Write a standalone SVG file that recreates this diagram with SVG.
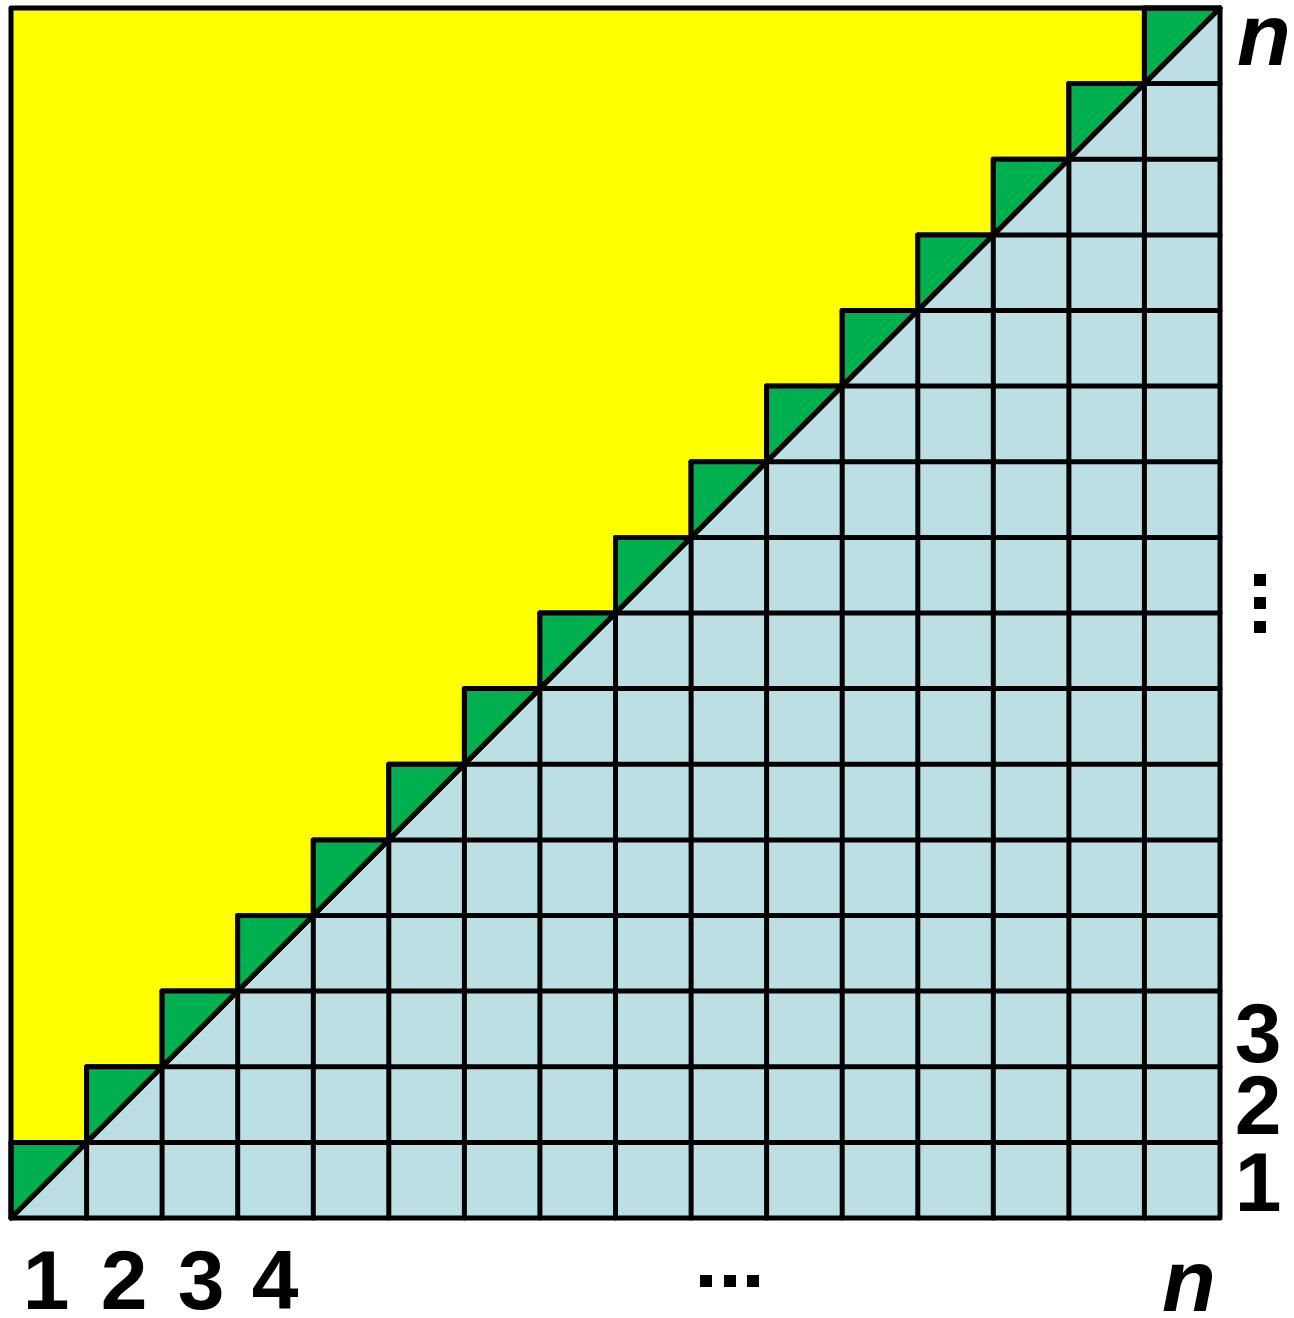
<svg xmlns="http://www.w3.org/2000/svg" width="1294" height="1318" viewBox="0 0 1294 1318">
<style>
.ln{fill:none;stroke:#000;stroke-width:5;stroke-linecap:round;stroke-linejoin:round}
.gr{fill:#00B050;stroke:#000;stroke-width:5;stroke-linejoin:round}
.lb{font-family:"Liberation Sans",Arial,sans-serif;font-weight:bold;font-size:84px;fill:#000;text-anchor:middle}
.it{font-style:italic;font-size:88px}
</style>
<rect width="1294" height="1318" fill="#fff"/>
<g id="board">
<rect x="11" y="8" width="1209" height="1210" fill="#FFFF00"/>
<path d="M11 1218 L1220 8 L1220 1218Z" fill="#BCDFE3"/>
<path class="ln" d="M11 1142.4H1220 M86.6 1066.8H1220 M162.1 991.1H1220 M237.7 915.5H1220 M313.3 839.9H1220 M388.8 764.3H1220 M464.4 688.6H1220 M539.9 613H1220 M615.5 537.4H1220 M691.1 461.8H1220 M766.6 386.1H1220 M842.2 310.5H1220 M917.8 234.9H1220 M993.3 159.3H1220 M1068.9 83.6H1220"/>
<path class="ln" d="M86.6 1066.8V1218 M162.1 991.1V1218 M237.7 915.5V1218 M313.3 839.9V1218 M388.8 764.3V1218 M464.4 688.6V1218 M539.9 613V1218 M615.5 537.4V1218 M691.1 461.8V1218 M766.6 386.1V1218 M842.2 310.5V1218 M917.8 234.9V1218 M993.3 159.3V1218 M1068.9 83.6V1218 M1144.4 8V1218"/>
<path class="gr" d="M11 1142.4H86.6L11 1218Z M86.6 1066.8H162.1L86.6 1142.4Z M162.1 991.1H237.7L162.1 1066.8Z M237.7 915.5H313.3L237.7 991.1Z M313.3 839.9H388.8L313.3 915.5Z M388.8 764.3H464.4L388.8 839.9Z M464.4 688.6H539.9L464.4 764.3Z M539.9 613H615.5L539.9 688.6Z M615.5 537.4H691.1L615.5 613Z M691.1 461.8H766.6L691.1 537.4Z M766.6 386.1H842.2L766.6 461.8Z M842.2 310.5H917.8L842.2 386.1Z M917.8 234.9H993.3L917.8 310.5Z M993.3 159.3H1068.9L993.3 234.9Z M1068.9 83.6H1144.4L1068.9 159.3Z M1144.4 8H1220L1144.4 83.6Z"/>
<path class="ln" d="M11 1218L1220 8"/>
<rect class="ln" x="11" y="8" width="1209" height="1210"/>
</g>
<g id="labels">
<text class="lb" x="46" y="1309">1</text>
<text class="lb" x="124" y="1309">2</text>
<text class="lb" x="201" y="1309">3</text>
<text class="lb" x="275" y="1309">4</text>
<rect x="700" y="1275" width="12" height="12"/>
<rect x="724" y="1275" width="12" height="12"/>
<rect x="747" y="1275" width="12" height="12"/>
<text class="lb it" x="1189" y="1311">n</text>
<text class="lb" x="1258" y="1211">1</text>
<text class="lb" x="1258" y="1134">2</text>
<text class="lb" x="1258" y="1062">3</text>
<rect x="1254" y="574" width="12" height="12"/>
<rect x="1254" y="597" width="12" height="12"/>
<rect x="1254" y="621" width="12" height="12"/>
<text class="lb it" x="1264" y="65">n</text>
</g>
</svg>
